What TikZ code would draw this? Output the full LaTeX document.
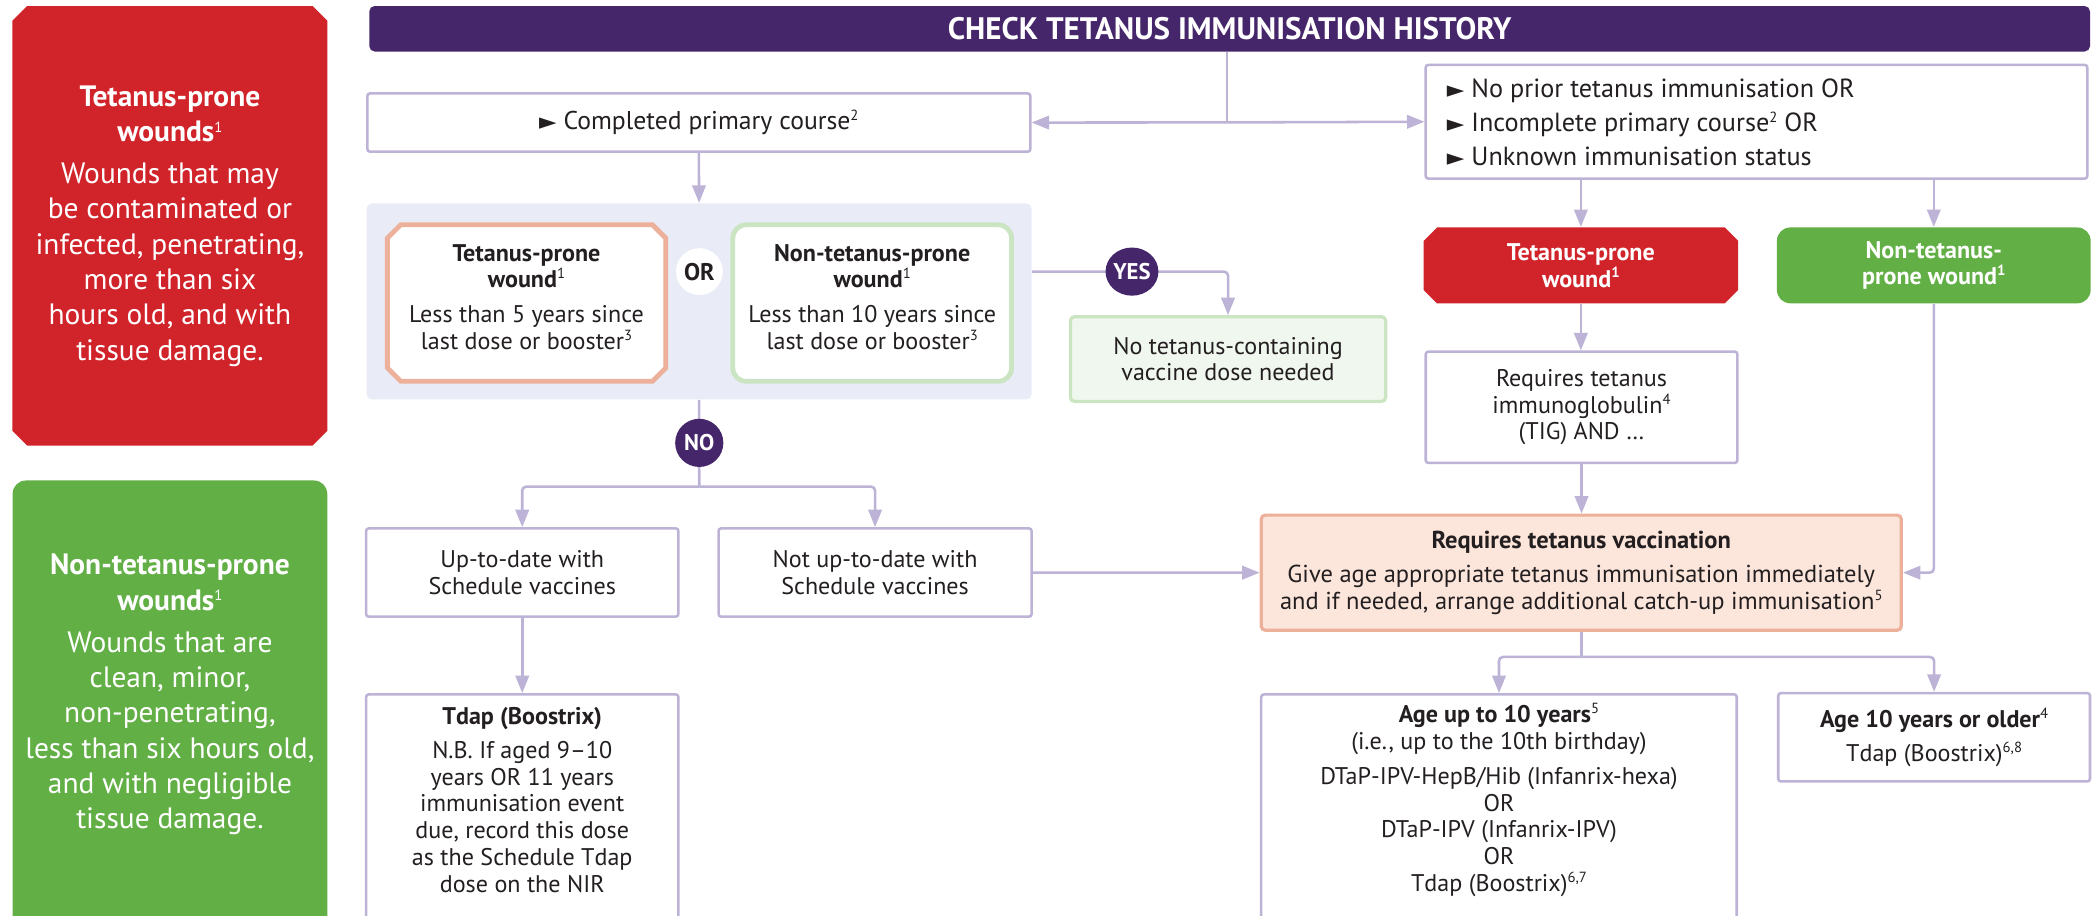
\documentclass[tikz,border=0pt]{standalone}
\usepackage{fontspec}
\setmainfont{PT Sans}
\newfontfamily\symfont{DejaVu Sans}
\usetikzlibrary{arrows.meta,shapes.geometric}
\definecolor{ink}{HTML}{231F20}
\definecolor{plum}{HTML}{46266A}
\definecolor{wred}{HTML}{D1232A}
\definecolor{wgreen}{HTML}{62AF46}
\definecolor{lav}{HTML}{BDB3D6}
\definecolor{panelbg}{HTML}{E9ECF6}
\definecolor{peach}{HTML}{EDB09A}
\definecolor{peachfill}{HTML}{FCE5DA}
\definecolor{mint}{HTML}{CBE5C2}
\definecolor{mintfill}{HTML}{F0F7EE}
\newcommand\fsm{\fontsize{9}{10}\selectfont}
\newcommand\fsl{\fontsize{11}{13.2}\selectfont}
\newcommand\ssup[1]{\raisebox{3.4pt}{\fontsize{5.5}{6}\selectfont #1}}
\newcommand\tri{{\symfont\fontsize{8.5}{8}\selectfont ►}}
\newcommand\octa[6]{\path[#6] ({#1+#5},#2) -- ({#3-#5},#2) -- (#3,{#2+#5}) -- (#3,{#4-#5}) -- ({#3-#5},#4) -- ({#1+#5},#4) -- (#1,{#4-#5}) -- (#1,{#2+#5}) -- cycle;}
\begin{document}
\begin{tikzpicture}[x=0.5pt,y=-0.5pt,
  conn/.style={draw=lav,line width=0.95pt,rounded corners=1.5pt},
  arr/.style={conn,-{Triangle[length=6.5pt,width=5pt]}},
  wbox/.style={draw=lav,line width=0.95pt,fill=white,rounded corners=1pt,inner sep=0pt},
  txt/.style={align=center,text=ink,font=\fsm,inner sep=0pt},
  wtxt/.style={align=center,text=white,inner sep=0pt},
  badge/.style={fill=plum,text=white,inner sep=0pt,font=\fontsize{8.5}{9}\selectfont\bfseries}]
\useasboundingbox (0,0) rectangle (1568,684);
\clip (0,0) rectangle (1568,684);
\fill[white] (0,0) rectangle (1568,684);

% left panels
\octa{9.3}{4.5}{244.6}{333}{11}{fill=wred}
\node[wtxt,font=\fsl,minimum width=117.6pt,minimum height=164.2pt] (redL) at (127,169)
 {\textbf{Tetanus-prone}\\\textbf{wounds}\ssup{1}\\[2.5pt]Wounds that may\\be contaminated or\\infected, penetrating,\\more than six\\hours old, and with\\tissue damage.};
\node[fill=wgreen,rounded corners=5pt,minimum width=117.6pt,minimum height=175pt,anchor=north,inner sep=0pt] (greenL) at (127,358.7) {};
\node[wtxt,font=\fsl] (greenLt) at (127,519)
 {\textbf{Non-tetanus-prone}\\\textbf{wounds}\ssup{1}\\[2.5pt]Wounds that are\\clean, minor,\\non-penetrating,\\less than six hours old,\\and with negligible\\tissue damage.};

% title
\node[fill=plum,rounded corners=2pt,minimum width=643pt,minimum height=17pt,inner sep=0pt,text=white,font=\fontsize{11.6}{12}\selectfont\bfseries] (title) at (919,21.5) {CHECK TETANUS IMMUNISATION HISTORY};

% top boxes
\node[wbox,txt,font=\fontsize{9.6}{10}\selectfont,minimum width=247.75pt,minimum height=21.8pt] (comp) at (522.3,91.6) {\tri\ Completed primary course\ssup{2}};
\node[wbox,minimum width=247.25pt,minimum height=42.5pt] (rt) at (1312.75,91) {};
\node[txt,align=left,anchor=west,font=\fontsize{9.8}{12.65}\selectfont] (rtt) at (1081,91.5)
 {\tri\ No prior tetanus immunisation OR\\\tri\ Incomplete primary course\ssup{2} OR\\\tri\ Unknown immunisation status};

% panel with two wound boxes
\node[fill=panelbg,rounded corners=2pt,minimum width=248.5pt,minimum height=73.25pt,inner sep=0pt] (panel) at (522.5,225.25) {};
\octa{289.5}{168}{497.6}{285}{10}{draw=peach,line width=1.8pt,fill=white}
\node[txt] (tpw) at (393.5,222)
 {\textbf{Tetanus-prone}\\\textbf{wound}\ssup{1}\\[3pt]Less than 5 years since\\last dose or booster\ssup{3}};
\node[draw=mint,line width=1.8pt,fill=white,rounded corners=5pt,minimum width=104.15pt,minimum height=58.5pt,inner sep=0pt] (ntpwbox) at (651.85,226.5) {};
\node[txt] (ntpw) at (651.85,222)
 {\textbf{Non-tetanus-prone}\\\textbf{wound}\ssup{1}\\[3pt]Less than 10 years since\\last dose or booster\ssup{3}};
\node[circle,fill=white,minimum size=17.5pt,inner sep=0pt,text=ink,font=\fontsize{9}{10}\selectfont\bfseries] (or) at (522.7,203) {OR};

\node[draw=mint,line width=1.2pt,fill=mintfill,rounded corners=1.5pt,minimum width=117.8pt,minimum height=31.65pt,txt] (nodose) at (917.8,268.35) {No tetanus-containing\\vaccine dose needed};

\node[wbox,txt,minimum width=116.7pt,minimum height=33pt] (utd) at (390.3,427.9) {Up-to-date with\\Schedule vaccines};
\node[wbox,txt,minimum width=117pt,minimum height=33pt] (nutd) at (654,427.9) {Not up-to-date with\\Schedule vaccines};
\node[wbox,minimum width=116.7pt,minimum height=101pt,anchor=north] (tdap) at (390.3,518) {};
\node[txt] (tdapt) at (390.3,598)
 {\textbf{Tdap (Boostrix)}\\[2.5pt]N.B. If aged 9–10\\years OR 11 years\\immunisation event\\due, record this dose\\as the Schedule Tdap\\dose on the NIR};

% right side
\octa{1064}{170}{1299}{226.7}{10}{fill=wred}
\node[wtxt,font=\fsm\bfseries,minimum width=117.5pt,minimum height=28.35pt] (tpw2) at (1181.5,198.35) {Tetanus-prone\\wound\ssup{1}};
\node[fill=wgreen,rounded corners=5pt,minimum width=117.25pt,minimum height=28.35pt,inner sep=0pt,wtxt,font=\fsm\bfseries] (ntpw2) at (1445.25,198.35) {Non-tetanus-\\prone wound\ssup{1}};
\node[wbox,txt,minimum width=116.45pt,minimum height=41.6pt] (tig) at (1182,304.4) {Requires tetanus\\immunoglobulin\ssup{4}\\(TIG) AND …};
\node[draw=peach,line width=1.2pt,fill=peachfill,rounded corners=1.5pt,minimum width=239.2pt,minimum height=43pt,txt,font=\fontsize{9.15}{10}\selectfont] (reqvac) at (1181.8,428)
 {\textbf{Requires tetanus vaccination}\\[2.7pt]Give age appropriate tetanus immunisation immediately\\and if needed, arrange additional catch-up immunisation\ssup{5}};
\node[wbox,minimum width=177.7pt,minimum height=101pt,anchor=north] (age10) at (1120.3,518) {};
\node[txt] (age10t) at (1120.3,598)
 {\textbf{Age up to 10 years}\ssup{5}\\(i.e., up to the 10th birthday)\\[3pt]DTaP-IPV-HepB/Hib (Infanrix-hexa)\\OR\\DTaP-IPV (Infanrix-IPV)\\OR\\Tdap (Boostrix)\ssup{6,7}};
\node[wbox,txt,minimum width=116.5pt,minimum height=33pt] (ageold) at (1445.5,551)
 {\textbf{Age 10 years or older}\ssup{4}\\[2.5pt]Tdap (Boostrix)\ssup{6,8}};

% connectors
\coordinate (tj) at (917,91.5);
\draw[conn] (title.south -| tj) -- (tj);
\draw[arr] (tj) -- (comp.east);
\draw[arr] (tj) -- (rt.west);
\draw[arr] (comp.south) -- (panel.north);
\draw[arr] (panel.east |- or) -| (nodose.north);
\node[badge,ellipse,minimum width=17pt,minimum height=18pt] (yes) at (846,203) {YES};
\coordinate (nj) at (522.6,363.7);
\draw[conn] (panel.south) -- (nj);
\node[badge,circle,minimum size=18pt] (no) at (522.6,331) {NO};
\draw[arr] (nj) -| (utd.north);
\draw[arr] (nj) -| (nutd.north);
\draw[arr] (utd.south) -- (tdap.north);
\draw[arr] (nutd.east) -- (reqvac.west);
\draw[arr] (rt.south -| tpw2) -- (tpw2.north);
\draw[arr] (rt.south -| ntpw2) -- (ntpw2.north);
\draw[arr] (tpw2.south) -- (tpw2.south |- tig.north);
\draw[arr] (tig.south) -- (tig.south |- reqvac.north);
\draw[arr] (ntpw2.south) |- (reqvac.east);
\coordinate (rj) at (1181.8,491);
\draw[conn] (reqvac.south) -- (rj);
\draw[arr] (rj) -| (age10.north);
\draw[arr] (rj) -| (ageold.north);
\end{tikzpicture}
\end{document}
